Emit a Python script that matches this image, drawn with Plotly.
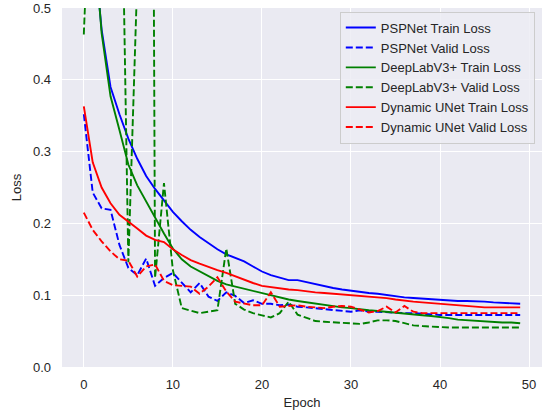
import plotly.graph_objects as go

epochs = list(range(50))

psp_train = [1.2, 0.6, 0.47, 0.39, 0.352, 0.318, 0.29, 0.266, 0.248, 0.232,
             0.216, 0.203, 0.191, 0.181, 0.172, 0.164, 0.157, 0.152, 0.147, 0.14,
             0.133, 0.128, 0.124, 0.121, 0.121, 0.118, 0.115, 0.112, 0.110, 0.108,
             0.106, 0.105, 0.103, 0.102, 0.100, 0.099, 0.097, 0.096, 0.095, 0.094,
             0.093, 0.092, 0.092, 0.092, 0.092, 0.091, 0.090, 0.089, 0.088, 0.088]
psp_valid = [0.352, 0.243, 0.221, 0.219, 0.170, 0.138, 0.128, 0.151, 0.113, 0.124,
             0.131, 0.118, 0.104, 0.117, 0.098, 0.092, 0.104, 0.099, 0.089, 0.093,
             0.088, 0.088, 0.086, 0.087, 0.084, 0.083, 0.082, 0.080, 0.079, 0.078,
             0.077, 0.079, 0.077, 0.077, 0.076, 0.076, 0.075, 0.075, 0.074, 0.073,
             0.0725, 0.0725, 0.0725, 0.0725, 0.0725, 0.0725, 0.0725, 0.0725, 0.0725, 0.0725]
dl_train = [1.1, 0.62, 0.465, 0.377, 0.33, 0.282, 0.253, 0.23, 0.208, 0.186,
            0.165, 0.15, 0.14, 0.133, 0.126, 0.120, 0.115, 0.112, 0.108, 0.105,
            0.102, 0.099, 0.096, 0.094, 0.092, 0.090, 0.088, 0.086, 0.084, 0.083,
            0.082, 0.080, 0.079, 0.078, 0.077, 0.076, 0.075, 0.073, 0.072, 0.071,
            0.070, 0.068, 0.066, 0.065, 0.064, 0.063, 0.062, 0.062, 0.062, 0.061]
dl_valid = [0.463, 0.75, 1.1, 0.95, 0.88, 0.146, 0.54, 3.0, 0.124, 0.256,
            0.135, 0.082, 0.078, 0.075, 0.077, 0.079, 0.165, 0.088, 0.080, 0.075,
            0.072, 0.069, 0.075, 0.091, 0.073, 0.068, 0.064, 0.063, 0.062, 0.061,
            0.060, 0.060, 0.062, 0.065, 0.065, 0.064, 0.061, 0.058, 0.057, 0.056,
            0.056, 0.055, 0.055, 0.055, 0.055, 0.055, 0.055, 0.055, 0.055, 0.055]
unet_train = [0.363, 0.285, 0.25, 0.228, 0.212, 0.203, 0.193, 0.183, 0.177, 0.174,
              0.164, 0.156, 0.149, 0.144, 0.139, 0.135, 0.131, 0.126, 0.121, 0.117,
              0.113, 0.111, 0.109, 0.108, 0.107, 0.105, 0.104, 0.103, 0.102, 0.101,
              0.100, 0.099, 0.098, 0.097, 0.096, 0.094, 0.092, 0.091, 0.090, 0.089,
              0.088, 0.087, 0.085, 0.084, 0.083, 0.083, 0.083, 0.083, 0.083, 0.083]
unet_valid = [0.215, 0.191, 0.175, 0.161, 0.150, 0.148, 0.126, 0.140, 0.143, 0.120,
              0.114, 0.113, 0.112, 0.102, 0.112, 0.125, 0.105, 0.091, 0.088, 0.086,
              0.086, 0.104, 0.084, 0.085, 0.086, 0.084, 0.083, 0.082, 0.084, 0.085,
              0.084, 0.080, 0.076, 0.078, 0.084, 0.076, 0.085, 0.077, 0.075, 0.075,
              0.075, 0.075, 0.075, 0.075, 0.075, 0.075, 0.075, 0.075, 0.075, 0.075]

series = [
    ("PSPNet Train Loss", psp_train, "blue", "solid"),
    ("PSPNet Valid Loss", psp_valid, "blue", "dash"),
    ("DeepLabV3+ Train Loss", dl_train, "green", "solid"),
    ("DeepLabV3+ Valid Loss", dl_valid, "green", "dash"),
    ("Dynamic UNet Train Loss", unet_train, "red", "solid"),
    ("Dynamic UNet Valid Loss", unet_valid, "red", "dash"),
]

FONT = "Liberation Sans, Arial, sans-serif"
TXT = "#262626"

fig = go.Figure()
for i, (name, vals, color, style) in enumerate(series):
    fig.add_trace(go.Scatter(
        x=epochs, y=vals, mode="lines", name=name, legendgroup=f"g{i}",
        line=dict(color=color, width=1.9, dash="7px,3px" if style == "dash" else "solid"),
    ))

fig.update_layout(
    width=542, height=415,
    margin=dict(l=62, r=0, t=8, b=48),
    paper_bgcolor="white", plot_bgcolor="#EAEAF2",
    font=dict(family=FONT, size=13, color=TXT),
    showlegend=True,
    legend=dict(
        x=0.985, y=0.99, xanchor="right", yanchor="top",
        bgcolor="rgba(236,236,243,0.85)", bordercolor="#cccccc", borderwidth=1,
        font=dict(family=FONT, size=13, color=TXT),
        tracegroupgap=0, itemwidth=30,
    ),
    xaxis=dict(
        range=[-2.45, 51.45], tickvals=[0, 10, 20, 30, 40, 50],
        showgrid=True, gridcolor="white", gridwidth=1.3, zeroline=False,
        showline=False, ticks="", ticklabelstandoff=8,
        title=dict(text="Epoch", font=dict(size=13, color=TXT), standoff=6),
    ),
    yaxis=dict(
        range=[0, 0.5], tickvals=[0, 0.1, 0.2, 0.3, 0.4, 0.5], tickformat=".1f",
        showgrid=True, gridcolor="white", gridwidth=1.3, zeroline=False,
        showline=False, ticks="", ticklabelstandoff=10,
        title=dict(text="Loss", font=dict(size=13, color=TXT), standoff=8),
    ),
)

fig.write_html("out.html", config={"displayModeBar": False},
               post_script="document.body.style.margin='0';")
